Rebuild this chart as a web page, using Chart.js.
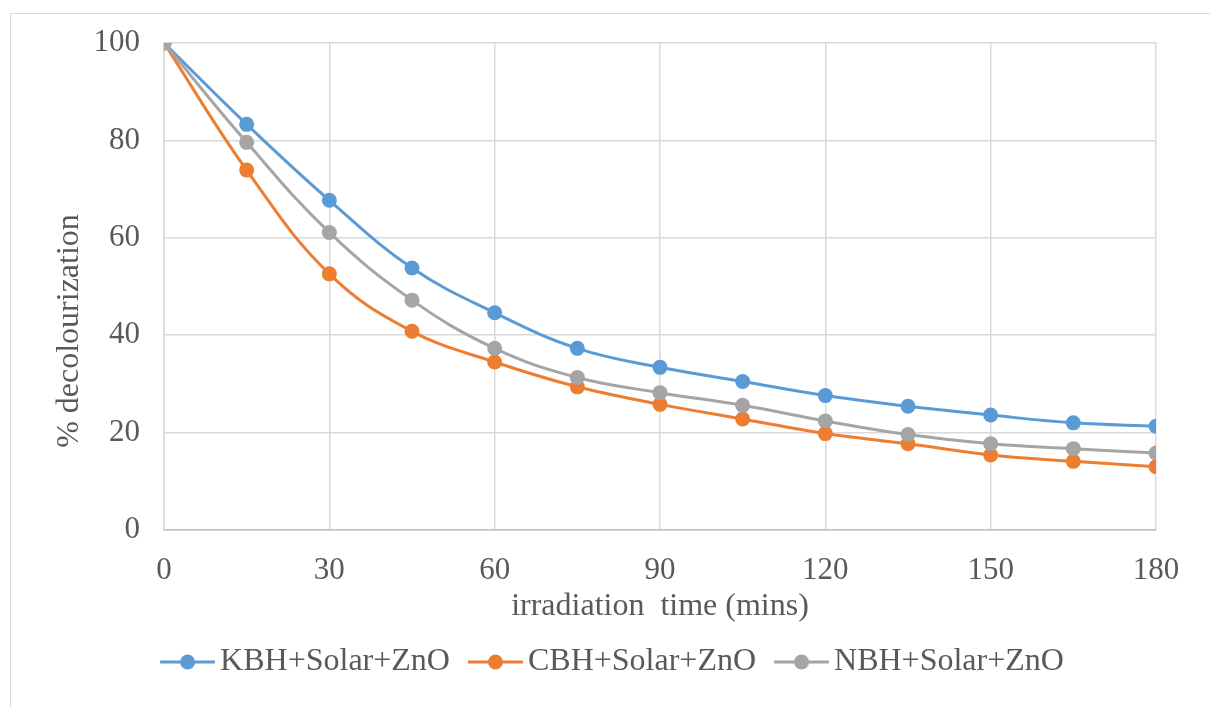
<!DOCTYPE html>
<html>
<head>
<meta charset="utf-8">
<script src="https://cdn.jsdelivr.net/npm/chart.js@4.4.1/dist/chart.umd.min.js"></script>
<style>
  html, body { margin: 0; padding: 0; background: #fff; }
  #wrap { position: relative; width: 1210px; height: 707px; overflow: hidden; }
  #frame { position: absolute; left: 10px; top: 13px; width: 1300px; height: 800px; border: 1.5px solid #d9d9d9; box-sizing: border-box; }
  canvas { position: absolute; left: 0; top: 0; }
</style>
</head>
<body>
<div id="wrap">
  <div id="frame"></div>
  <canvas id="c" width="1210" height="707"></canvas>
</div>
<script>
const times = [0, 15, 30, 45, 60, 75, 90, 105, 120, 135, 150, 165, 180];
const kbh = [100, 83.3, 67.7, 53.8, 44.6, 37.3, 33.4, 30.5, 27.6, 25.4, 23.6, 22.0, 21.3];
const cbh = [100, 73.9, 52.6, 40.8, 34.5, 29.4, 25.8, 22.8, 19.8, 17.7, 15.4, 14.1, 13.0];
const nbh = [100, 79.6, 61.1, 47.2, 37.3, 31.3, 28.2, 25.6, 22.4, 19.6, 17.7, 16.7, 15.8];
const seriesNames = ['KBH+Solar+ZnO', 'CBH+Solar+ZnO', 'NBH+Solar+ZnO'];
const seriesColors = ['#5B9BD5', '#ED7D31', '#A5A5A5'];
const xTitle = 'irradiation  time (mins)';
const yTitle = '% decolourization';

const FONT = "'Liberation Serif', 'Times New Roman', serif";
const TXT = '#595959';

// legend marker: line with a dot, drawn so that it ends just before the label text
function legendIcon(color) {
  const cv = document.createElement('canvas');
  cv.width = 64; cv.height = 18;
  const g = cv.getContext('2d');
  g.strokeStyle = color; g.lineWidth = 3;
  g.beginPath(); g.moveTo(9, 9); g.lineTo(64, 9); g.stroke();
  g.fillStyle = color;
  g.beginPath(); g.arc(36.5, 9, 7.5, 0, Math.PI * 2); g.fill();
  return cv;
}
const icons = seriesColors.map(legendIcon);

function mk(arr) { return times.map((t, i) => ({ x: t, y: arr[i] })); }
const allData = [kbh, cbh, nbh];

const datasets = allData.map((arr, i) => ({
  label: seriesNames[i],
  data: mk(arr),
  borderColor: seriesColors[i],
  backgroundColor: seriesColors[i],
  borderWidth: 3,
  pointRadius: 7.5,
  pointHoverRadius: 7.5,
  pointBorderWidth: 0,
  tension: 0.4,
  fill: false,
  order: 3 - i
}));

const yTitlePlugin = {
  id: 'yTitlePlugin',
  afterDraw(chart) {
    const ctx = chart.ctx;
    ctx.save();
    ctx.translate(70, 331);
    ctx.rotate(-Math.PI / 2);
    ctx.font = '32px ' + FONT;
    ctx.fillStyle = TXT;
    ctx.textAlign = 'center';
    ctx.textBaseline = 'middle';
    ctx.fillText(yTitle, 0, 0);
    ctx.restore();
  }
};

new Chart(document.getElementById('c'), {
  type: 'line',
  data: { datasets },
  plugins: [yTitlePlugin],
  options: {
    responsive: false,
    animation: false,
    events: [],
    layout: { padding: { left: 70, right: 54, top: 43, bottom: 19 } },
    plugins: {
      tooltip: { enabled: false },
      legend: {
        position: 'bottom',
        labels: {
          sort: (a, b) => a.datasetIndex - b.datasetIndex,
          usePointStyle: true,
          pointStyleWidth: 42,
          boxHeight: 18,
          padding: 20,
          color: TXT,
          font: { family: FONT, size: 32 },
          generateLabels: (chart) => chart.data.datasets.map((ds, i) => ({
            text: ds.label,
            fillStyle: ds.borderColor,
            strokeStyle: ds.borderColor,
            fontColor: TXT,
            lineWidth: 0,
            pointStyle: icons[i],
            datasetIndex: i,
            hidden: false
          }))
        }
      }
    },
    scales: {
      x: {
        type: 'linear',
        min: 0, max: 180,
        ticks: { stepSize: 30, color: TXT, font: { family: FONT, size: 31 }, padding: 22, maxRotation: 0 },
        grid: { color: '#d9d9d9', lineWidth: 1.5, drawTicks: false },
        border: { color: '#bfbfbf', width: 1.5 },
        title: { display: true, text: xTitle, color: TXT, font: { family: FONT, size: 32 }, padding: { top: 0, bottom: 0 } },
        afterFit: (s) => { s.height = 96; }
      },
      y: {
        min: 0, max: 100,
        ticks: { stepSize: 20, color: TXT, font: { family: FONT, size: 31 }, padding: 24 },
        grid: { color: '#d9d9d9', lineWidth: 1.5, drawTicks: false },
        border: { color: '#d9d9d9', width: 1.5 },
        title: { display: false },
        afterFit: (s) => { s.width = 94; }
      }
    }
  }
});
</script>
</body>
</html>
